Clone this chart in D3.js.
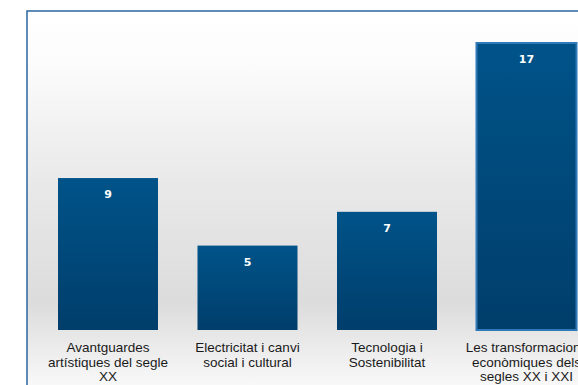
<!DOCTYPE html>
<html><head><meta charset="utf-8">
<script src="https://cdn.jsdelivr.net/npm/d3@7"></script>
<style>html,body{margin:0;padding:0;background:#fff;overflow:hidden}</style>
</head><body>
<svg id="c" width="578" height="385"></svg>
<script>
const categories = [
  "Avantguardes artístiques del segle XX",
  "Electricitat i canvi social i cultural",
  "Tecnologia i Sostenibilitat",
  "Les transformacions econòmiques dels segles XX i XXI"
];
const labelLines = [
  ["Avantguardes", "artístiques del segle", "XX"],
  ["Electricitat i canvi", "social i cultural"],
  ["Tecnologia i", "Sostenibilitat"],
  ["Les transformacions", "econòmiques dels", "segles XX i XXI"]
];
const values = [9, 5, 7, 17];
const highlighted = [false, false, false, true];

const svg = d3.select("#c");
const W = 578, H = 385;
const frame = {left: 27, top: 11};
const baseY = 330;

const defs = svg.append("defs");
const bg = defs.append("linearGradient").attr("id","bg").attr("x1",0).attr("y1",0).attr("x2",0).attr("y2",1);
bg.append("stop").attr("offset","0%").attr("stop-color","#ffffff");
bg.append("stop").attr("offset","15%").attr("stop-color","#fbfbfb");
bg.append("stop").attr("offset","45%").attr("stop-color","#e9e9e9");
bg.append("stop").attr("offset","77%").attr("stop-color","#dcdcdc");
bg.append("stop").attr("offset","100%").attr("stop-color","#fafafa");

const bar = defs.append("linearGradient").attr("id","bar").attr("x1",0).attr("y1",0).attr("x2",0).attr("y2",1);
bar.append("stop").attr("offset","0%").attr("stop-color","#005389");
bar.append("stop").attr("offset","100%").attr("stop-color","#003e6b");

svg.append("rect").attr("x", frame.left).attr("y", frame.top)
  .attr("width", W - frame.left + 5).attr("height", H - frame.top + 5)
  .attr("fill", "url(#bg)");
svg.append("path")
  .attr("d", `M${frame.left},${H+2} V${frame.top} H${W+2}`)
  .attr("fill","none").attr("stroke","#2b65a0").attr("stroke-width",1.5);

const step = 139.5;
const x = d3.scaleBand().domain(categories)
  .range([108 - step/2, 108 - step/2 + step*categories.length])
  .paddingInner(1 - 100/step).paddingOuter((1 - 100/step)/2);
const y = d3.scaleLinear().domain([0, 17]).range([baseY, 43]);

const g = svg.append("g");
g.selectAll("rect.bar").data(values).join("rect")
  .attr("class","bar")
  .attr("x", (d,i) => x(categories[i]))
  .attr("y", d => y(d))
  .attr("width", x.bandwidth())
  .attr("height", d => y(0) - y(d))
  .attr("fill", "url(#bar)")
  .attr("stroke", (d,i) => highlighted[i] ? "#2f79b8" : "none")
  .attr("stroke-width", 2);

g.selectAll("text.val").data(values).join("text")
  .attr("class","val")
  .attr("x", (d,i) => x(categories[i]) + x.bandwidth()/2)
  .attr("y", d => y(d) + 20)
  .attr("text-anchor","middle")
  .attr("font-family","'DejaVu Sans', Verdana, sans-serif")
  .attr("font-weight","bold").attr("font-size", 11)
  .attr("fill","#ffffff")
  .text(d => d);

const lab = g.selectAll("text.cat").data(categories).join("text")
  .attr("class","cat")
  .attr("text-anchor","middle")
  .attr("font-family","'Liberation Sans', Arial, sans-serif")
  .attr("font-size", 13.5)
  .attr("fill","#1a1a1a");
lab.each(function(c, i) {
  const t = d3.select(this);
  labelLines[i].forEach((ln, j) => {
    t.append("tspan")
      .attr("x", x(c) + x.bandwidth()/2)
      .attr("y", 352 + j*14.5)
      .text(ln);
  });
});
</script>
</body></html>
